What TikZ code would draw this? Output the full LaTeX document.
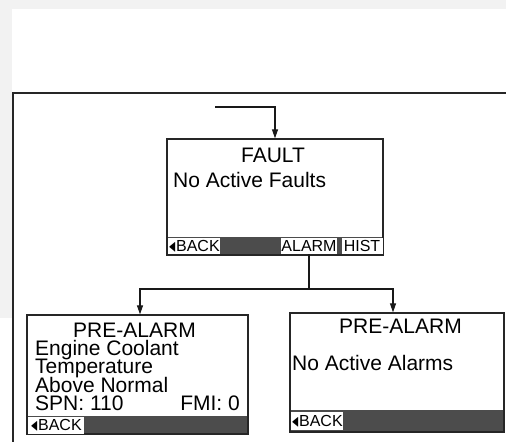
\documentclass[tikz,border=0pt]{standalone}
\usepackage{fontspec}
\setmainfont{Liberation Sans}
\usepackage{amssymb}
\usetikzlibrary{arrows.meta}

\newcommand{\lcdfont}{\fontsize{21pt}{21pt}\selectfont}
\newcommand{\keyfont}{\fontsize{16pt}{16pt}\selectfont}
\newcommand{\backtip}{\raisebox{0.5pt}{\scalebox{0.6}[1.05]{$\blacktriangleleft$}}}

\tikzset{
  screen/.style={draw=black!85, line width=1.3pt, fill=white, inner sep=0pt,
    path picture={\fill[black!70] (path picture bounding box.south west)
      rectangle ([yshift=#1]path picture bounding box.south east);}},
  screen/.default=18pt,
  softkey/.style={fill=white, inner sep=0pt, minimum height=16pt, font=\keyfont},
  lcdtext/.style={inner sep=0pt, text height=14.5pt, text depth=3.3pt, font=\lcdfont},
  flowline/.style={line width=1.1pt, black!90},
  flow/.style={flowline, -{Triangle[length=9pt,width=6pt]}},
}

\begin{document}
\begin{tikzpicture}[x=1pt, y=-1pt]
  \useasboundingbox (0,0) rectangle (506,442);
  % Page background and frame
  \fill[black!5] (0,0) rectangle (506,442);
  \fill[white] (12,9) rectangle (506,442);
  \fill[white] (0,318) rectangle (12,442);
  \draw[line width=2pt, black!85] (506,93) -- (12.5,93) -- (12.5,442);

  % Fault screen
  \node[screen, minimum width=216pt, minimum height=116pt] (fault) at (275,197) {};
  \node[lcdtext, anchor=base] (faulttitle) at (273,162) {FAULT};
  \node[lcdtext, anchor=base west] (faultmsg) at (173,187) {No Active Faults};
  \node[softkey, anchor=west, minimum width=52pt] (faultback) at (168,246) {\backtip BACK};
  \node[softkey, minimum width=55pt] (alarm) at (309,246) {ALARM};
  \node[softkey, minimum width=41pt] (hist) at (362,246) {HIST};

  % Pre-alarm screen, active alarm
  \node[screen, minimum width=221pt, minimum height=119pt] (engine) at (137.5,374.5) {};
  \node[lcdtext, anchor=base] (enginetitle) at (134.5,337) {PRE-ALARM};
  \node[lcdtext, anchor=base west] (engineline1) at (35,355.5) {Engine Coolant};
  \node[lcdtext, anchor=base west] (engineline2) at (35,373.5) {Temperature};
  \node[lcdtext, anchor=base west] (engineline3) at (35,392) {Above Normal};
  \node[lcdtext, anchor=base west] (enginespn) at (35,410) {SPN: 110};
  \node[lcdtext, anchor=base east] (enginefmi) at (240,410) {FMI: 0};
  \node[softkey, anchor=west, minimum width=56pt, minimum height=17pt] (engineback) at (28,425) {\backtip BACK};

  % Pre-alarm screen, no alarms
  \node[screen=22pt, minimum width=214pt, minimum height=119pt] (noalarm) at (397,372.5) {};
  \node[lcdtext, anchor=base] (noalarmtitle) at (400.5,333) {PRE-ALARM};
  \node[lcdtext, anchor=base west] (noalarmmsg) at (292,370) {No Active Alarms};
  \node[softkey, anchor=west, minimum width=52pt, minimum height=18pt] (noalarmback) at (291,421) {\backtip BACK};

  % Connectors
  \coordinate (entry) at (215,107);
  \coordinate (split) at (309,289);
  \draw[flow] (entry) -| (fault.north);
  \draw[flowline] (alarm.south) -- (split);
  \draw[flow] (split) -| ([xshift=2.5pt]engine.north);
  \draw[flow] (split) -| ([xshift=-4pt]noalarm.north);
\end{tikzpicture}
\end{document}
